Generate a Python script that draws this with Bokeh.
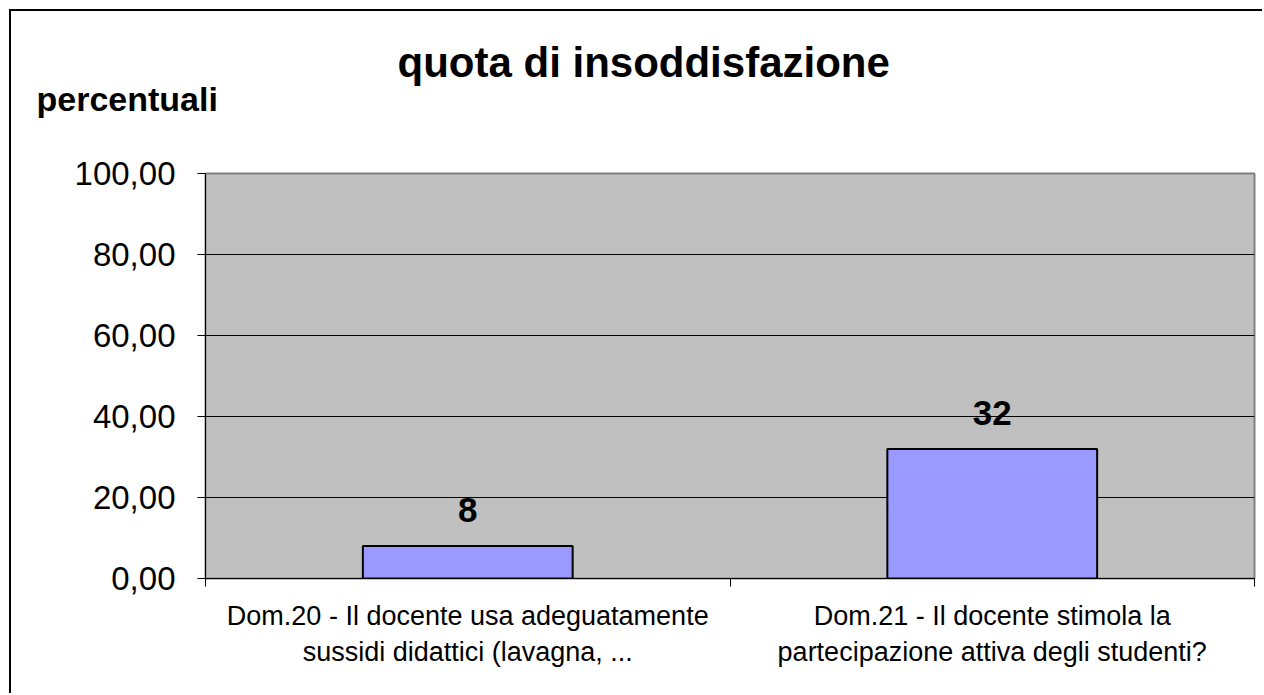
from bokeh.plotting import figure
from bokeh.models import (Range1d, LinearAxis, FixedTicker, Title,
                          CustomJSTickFormatter, LabelSet, ColumnDataSource)
from bokeh.core.properties import value
from bokeh.embed import file_html
from bokeh.resources import INLINE

categories = [
    "Dom.20 - Il docente usa adeguatamente\nsussidi didattici (lavagna, ...",
    "Dom.21 - Il docente stimola la\npartecipazione attiva degli studenti?",
]
values = [8, 32]
value_labels = ["8", "32"]
y_ticks = [0, 20, 40, 60, 80, 100]
title_text = "quota di insoddisfazione"
y_title = "percentuali"

FONT = "Liberation Sans"
n = len(categories)
centers = [i + 0.5 for i in range(n)]

p = figure(x_range=Range1d(0, n), y_range=Range1d(0, 100),
           width=1253, height=684, output_backend="svg", toolbar_location=None,
           x_axis_type=None, min_border_left=194, min_border_top=162,
           min_border_right=10, min_border_bottom=117)
p.styles = {"margin-left": "9px", "margin-top": "9px",
            "border-left": "2px solid black", "border-top": "2px solid black"}
p.background_fill_color = "#C0C0C0"
p.border_fill_color = "white"
p.outline_line_color = "#808080"
p.outline_line_width = 2

# y axis
ya = p.yaxis[0]
ya.ticker = FixedTicker(ticks=y_ticks)
ya.formatter = CustomJSTickFormatter(code="return tick.toFixed(2).replace('.', ',');")
ya.major_label_text_font = FONT
ya.major_label_text_font_size = "33px"
ya.major_label_text_color = "black"
ya.major_tick_in = 0
ya.major_tick_out = 8
ya.major_tick_line_color = "black"
ya.minor_tick_line_color = None
ya.axis_line_color = "black"
ya.major_label_standoff = 22

p.ygrid.ticker = FixedTicker(ticks=[t for t in y_ticks if 0 < t < 100])
p.ygrid.grid_line_color = "black"
p.ygrid.grid_line_width = 1
p.xgrid.grid_line_color = None

# separator ticks axis
sep_axis = LinearAxis(ticker=FixedTicker(ticks=list(range(n + 1))),
                      major_label_text_font_size="1px", major_label_text_alpha=0,
                      major_tick_in=0, major_tick_out=8, minor_tick_line_color=None,
                      axis_line_color="black", major_tick_line_color="black",
                      major_label_standoff=0)
p.add_layout(sep_axis, "below")

cat_axis = LinearAxis(ticker=FixedTicker(ticks=centers),
                      major_label_overrides={c: lab for c, lab in zip(centers, categories)},
                      axis_line_color=None, major_tick_line_color=None,
                      minor_tick_line_color=None,
                      major_label_text_font=FONT, major_label_text_font_size="27px",
                      major_label_text_color="black", major_label_standoff=8)
p.add_layout(cat_axis, "below")

src = ColumnDataSource(data=dict(x=centers, val=values, lbl=value_labels))
p.vbar(x="x", top="val", width=0.4, source=src, fill_color="#9999FF",
       line_color="black", line_width=2)

labels = LabelSet(x="x", y="val", text="lbl", source=src, y_offset=24,
                  text_align="center", text_baseline="alphabetic",
                  text_font=value(FONT), text_font_size="35px", text_font_style="bold",
                  text_color="black")
p.add_layout(labels)

p.add_layout(Title(text=y_title, align="left", offset=-169, standoff=112,
                   text_font=FONT, text_font_size="34px", text_font_style="bold",
                   text_color="black"), "above")
p.add_layout(Title(text=title_text, align="left", offset=192, standoff=-128,
                   text_font=FONT, text_font_size="42px", text_font_style="bold",
                   text_color="black"), "above")

open("out.html", "w").write(file_html(p, INLINE))
